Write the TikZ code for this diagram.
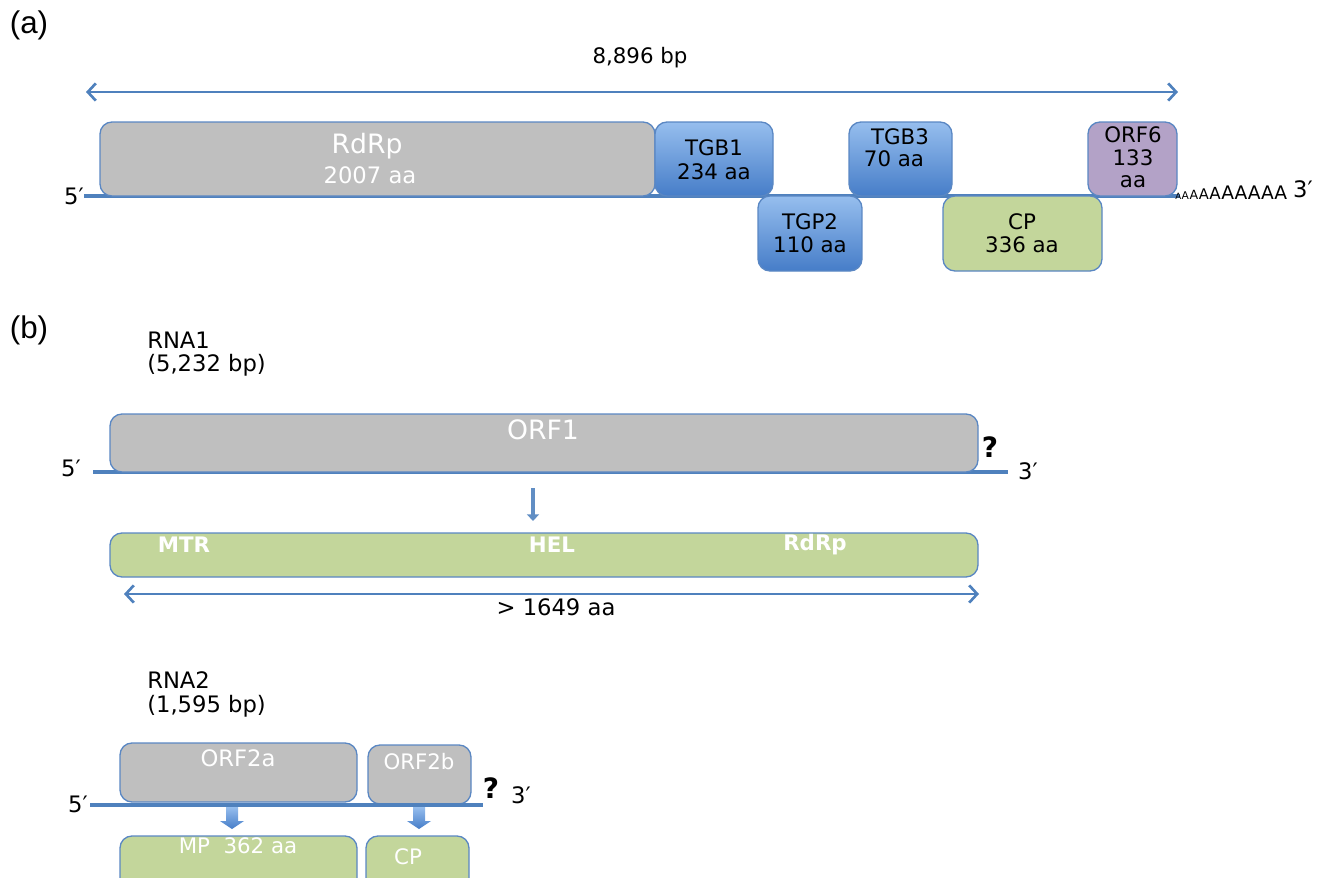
\documentclass[tikz,border=0pt]{standalone}
\usepackage{fontspec}
\setmainfont{DejaVu Sans}
\newfontfamily\arialf{Liberation Sans}
\usetikzlibrary{arrows.meta}
\definecolor{lineblue}{RGB}{79,129,189}
\definecolor{boxline}{RGB}{90,135,195}
\definecolor{grayfill}{RGB}{191,191,191}
\definecolor{greenfill}{RGB}{195,214,155}
\definecolor{purplefill}{RGB}{179,162,199}
\definecolor{bluetop}{RGB}{150,190,238}
\definecolor{bluebot}{RGB}{70,125,200}
\newcommand\mybox[6]{\node[#6, minimum width={(#4-#2)*0.75pt}, minimum height={(#5-#3)*0.75pt}] (#1) at ({(#2+#4)/2},{(#3+#5)/2}) {};}
\tikzset{
  box/.style={draw=boxline, line width=1pt, rounded corners=9pt, inner sep=0pt, outer sep=0pt},
  graybox/.style={box, fill=grayfill},
  bluebox/.style={box, top color=bluetop, bottom color=bluebot},
  greenbox/.style={box, fill=greenfill},
  purplebox/.style={box, fill=purplefill},
  rna/.style={draw=lineblue, line width=2.6pt},
  dbl/.style={draw=lineblue, line width=2.2pt, {Straight Barb[length=6pt,width=13pt,line width=2pt]}-{Straight Barb[length=6pt,width=13pt,line width=2pt]}},
  txt/.style={inner sep=0pt, font=\fontsize{16}{19}\selectfont},
  wtxt/.style={txt, text=white},
  btxt/.style={inner sep=0pt, text=white, font=\fontsize{16}{19}\selectfont\bfseries},
  lbl/.style={inner sep=0pt, font=\arialf\fontsize{23.5}{26}\selectfont},
  qm/.style={inner sep=0pt, font=\fontsize{21}{24}\selectfont\bfseries},
  blockarrow/.style={top color=bluetop, bottom color=bluebot, draw=none}
}
\begin{document}
\begin{tikzpicture}[x=0.75pt,y=-0.75pt]
\useasboundingbox (0,0) rectangle (1329,878);
% ---------------- (a)
\node[lbl] (la) at (29,25) {(a)};
\node[txt] (len) at (640,58) {8,896 bp};
\coordinate (dl) at (86,92);
\coordinate (dr) at (1178,92);
\draw[dbl] (dl) -- (dr);
\coordinate (ra) at (84,196);
\coordinate (rb) at (1180,196);
\draw[rna] (ra) -- (rb);
\node[txt, font=\fontsize{17}{20}\selectfont, anchor=east] (a5) at (84,196) {5′};
\mybox{rdrp}{100}{122}{655}{196}{graybox}
\node[wtxt, font=\fontsize{20}{24}\selectfont] (rdrpt) at (367,146) {RdRp};
\node[wtxt, font=\fontsize{17}{20}\selectfont] (rdrpn) at (370,175) {2007 aa};
\mybox{tgbone}{655}{122}{773}{196}{bluebox}
\node[txt] (tgbonet) at (714,148) {TGB1};
\node[txt] (tgbonen) at (714,172) {234 aa};
\mybox{tgbtwo}{758}{196}{862}{271}{bluebox}
\node[txt] (tgbtwot) at (810,222) {TGP2};
\node[txt] (tgbtwon) at (810,245) {110 aa};
\mybox{tgbthree}{849}{122}{952}{196}{bluebox}
\node[txt] (tgbthreet) at (900,137) {TGB3};
\node[txt] (tgbthreen) at (894,159) {70 aa};
\mybox{cpa}{943}{196}{1102}{271}{greenbox}
\node[txt] (cpat) at (1022,222) {CP};
\node[txt] (cpan) at (1022,245) {336 aa};
\mybox{orfsix}{1088}{122}{1177}{196}{purplebox}
\node[txt] (orfsixa) at (1133,135) {ORF6};
\node[txt] (orfsixb) at (1133,158) {133};
\node[txt] (orfsixc) at (1133,182) {aa};
% poly A tail
\coordinate (p0) at (1175,199);
\foreach \s [count=\i, remember=\i as \j (initially 0)] in {6.5,8,9.5,11,12.5,14,14,14,14,14} {
  \ifnum\i=1
    \node[inner sep=0pt, anchor=base west, font=\fontsize{\s}{\s}\selectfont] (pa\i) at (p0) {A};
  \else
    \node[inner sep=0pt, anchor=base west, font=\fontsize{\s}{\s}\selectfont] (pa\i) at (pa\j.base east) {A};
  \fi
}
\node[txt, font=\fontsize{17}{20}\selectfont] (a3) at (1303,189) {3′};
% ---------------- (b)
\node[lbl] (lb) at (29,330) {(b)};
\node[txt, font=\fontsize{17}{20}\selectfont, anchor=west] (rnaone) at (147,340) {RNA1};
\node[txt, font=\fontsize{17}{20}\selectfont, anchor=west] (rnaonelen) at (147,365) {(5,232 bp)};
\coordinate (rc) at (93,472);
\coordinate (rd) at (1008,472);
\draw[rna] (rc) -- (rd);
\mybox{orfone}{110}{414}{978}{472}{graybox}
\node[wtxt, font=\fontsize{20}{24}\selectfont] (orfonet) at (543,430) {ORF1};
\node[txt, font=\fontsize{17}{20}\selectfont] (b5) at (71,468) {5′};
\node[txt, font=\fontsize{17}{20}\selectfont] (b3) at (1028,471) {3′};
\node[qm] (bq) at (990,447) {?};
\coordinate (ta) at (533,488);
\coordinate (tb) at (533,521);
\draw[draw=lineblue!90, line width=3pt, -{Triangle[length=5pt,width=9pt]}] (ta) -- (tb);
\mybox{polyone}{110}{533}{978}{577}{greenbox}
\node[btxt] (mtr) at (184,545) {MTR};
\node[btxt] (hel) at (552,545) {HEL};
\node[btxt] (rdrpd) at (815,545) {RdRp};
\coordinate (el) at (124,594);
\coordinate (er) at (979,594);
\draw[dbl] (el) -- (er);
\node[txt, font=\fontsize{17}{20}\selectfont] (plen) at (556,607) {> 1649 aa};
% RNA2
\node[txt, font=\fontsize{17}{20}\selectfont, anchor=west] (rnatwo) at (147,680) {RNA2};
\node[txt, font=\fontsize{17}{20}\selectfont, anchor=west] (rnatwolen) at (147,706) {(1,595 bp)};
\mybox{orftwoa}{120}{743}{357}{802}{graybox}
\node[wtxt, font=\fontsize{17}{20}\selectfont] (orftwoat) at (238,758) {ORF2a};
\mybox{orftwob}{368}{745}{471}{804}{graybox}
\node[wtxt, font=\fontsize{16}{19}\selectfont] (orftwobt) at (419,762) {ORF2b};
\coordinate (re) at (90,805);
\coordinate (rf) at (483,805);
\draw[rna] (re) -- (rf);
\node[txt, font=\fontsize{17}{20}\selectfont] (c5) at (78,804) {5′};
\node[qm] (cq) at (491,788) {?};
\node[txt, font=\fontsize{17}{20}\selectfont] (c3) at (521,795) {3′};
\foreach \cx [count=\k] in {232,419} {
  \path[blockarrow] ({\cx-6},807) -- ({\cx+6},807) -- ({\cx+6},821) -- ({\cx+12},821) -- (\cx,829) -- ({\cx-12},821) -- ({\cx-6},821) -- cycle;
}
\mybox{mp}{120}{836}{357}{890}{greenbox}
\node[wtxt] (mpt) at (238,846) {MP\ \ 362 aa};
\mybox{cpb}{366}{836}{469}{890}{greenbox}
\node[wtxt] (cpbt) at (408,857) {CP};
\end{tikzpicture}
\end{document}
